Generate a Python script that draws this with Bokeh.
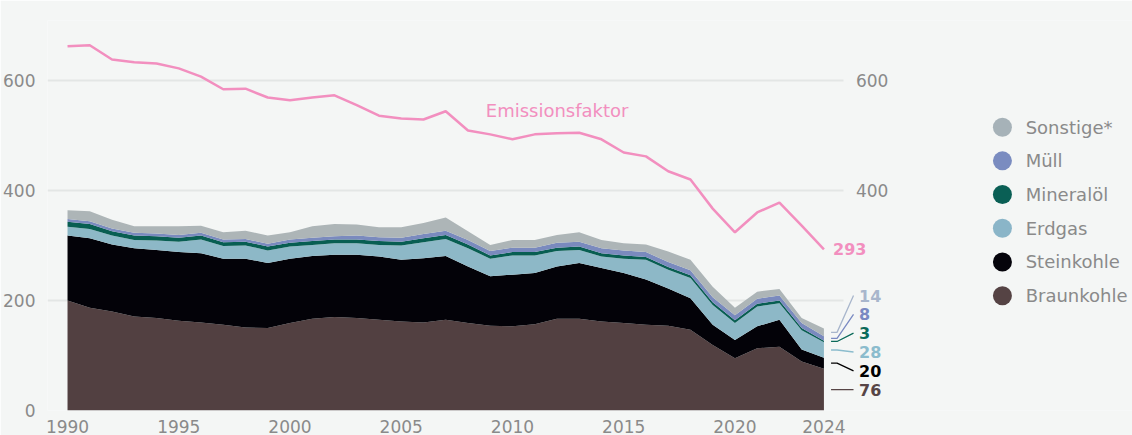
from bokeh.plotting import figure
from bokeh.models import (Range1d, FixedTicker, Label, ColumnDataSource)
from bokeh.core.properties import value
from bokeh.embed import file_html
from bokeh.resources import INLINE

# ---------------- data ----------------
years = list(range(1990, 2025))
braunkohle = [200, 187, 180, 171, 168, 163, 160, 156, 151, 150, 159, 167, 170, 168, 165, 162, 160, 165,
              159, 154, 153, 157, 167, 167, 162, 159, 156, 154, 147, 119, 95, 113, 116, 89, 76]
steinkohle = [118, 126, 122, 124, 124, 125, 126, 120, 125, 118, 117, 114, 113, 115, 115, 112, 117, 116,
              103, 90, 94, 93, 95, 101, 97, 91, 82, 68, 57, 37, 33, 40, 49, 22, 20]
erdgas = [16, 17, 16, 15, 17, 19, 25, 23, 24, 23, 22, 20, 21, 21, 21, 26, 29, 31,
          33, 32, 35, 32, 28, 24, 21, 26, 36, 34, 37, 36, 31, 36, 30, 35, 28]
mineraloel = [9, 9, 8, 8, 8, 7, 7, 7, 7, 7, 7, 7, 7, 7, 7, 7, 7, 7,
              7, 6, 6, 6, 6, 6, 6, 6, 5, 5, 5, 5, 5, 5, 5, 4, 3]
muell = [5, 5, 5, 5, 5, 5, 5, 5, 5, 5, 6, 6, 6, 7, 7, 7, 8, 8,
         8, 8, 8, 8, 9, 9, 9, 9, 9, 9, 9, 9, 9, 9, 9, 9, 8]
sonstige = [16, 18, 16, 12, 13, 16, 13, 13, 15, 15, 13, 21, 22, 20, 18, 19, 20, 24,
            16, 11, 14, 14, 14, 17, 15, 13, 14, 19, 19, 19, 14, 13, 12, 9, 14]
emissionsfaktor = [662, 664, 638, 633, 631, 622, 607, 584, 585, 569, 564, 569, 573, 555, 536, 531, 529, 544,
                   509, 502, 493, 502, 504, 505, 493, 469, 462, 435, 420, 367, 324, 360, 378, 336, 293]

series_names = ["Braunkohle", "Steinkohle", "Erdgas", "Mineralöl", "Müll", "Sonstige*"]
series_keys = ["braunkohle", "steinkohle", "erdgas", "mineraloel", "muell", "sonstige"]
series_vals = [braunkohle, steinkohle, erdgas, mineraloel, muell, sonstige]
x_ticks = [1990, 1995, 2000, 2005, 2010, 2015, 2020, 2024]
y_ticks_left = [0, 200, 400, 600]
y_ticks_right = [400, 600]

# ---------------- styles / layout ----------------
area_colors = ["#524041", "#030208", "#8db8c7", "#085e52", "#7a8abe", "#adb5b7"]
legend_colors = ["#554344", "#05040b", "#8ab5c8", "#0a5f55", "#7a8cc0", "#a6b2b8"]
label_colors = ["#574546", "#000000", "#8bbccd", "#0b6a5a", "#7a8ac2", "#a8b6cc"]
pink = "#f28fbf"
bg = "#f4f6f5"
tick_color = "#8a8a8a"
grid_color = "#e3e6e5"
FONT = "DejaVu Sans"

X0, X_GRID_END, X1 = 1989.10, 2024.90, 2037.87
PX_PER_UNIT = 0.55          # vertical pixels per Mt
PX_PER_YEAR = 22.29         # horizontal pixels per year

p = figure(width=1132, height=435,
           x_range=Range1d(X0, X1), y_range=Range1d(0, 709),
           output_backend="svg", toolbar_location=None,
           min_border_left=45, min_border_right=0, min_border_top=20, min_border_bottom=25)
p.background_fill_color = bg
p.border_fill_color = bg
p.outline_line_color = None

# axes
p.xaxis.ticker = FixedTicker(ticks=x_ticks)
p.yaxis.ticker = FixedTicker(ticks=y_ticks_left)
for ax in [p.xaxis[0], p.yaxis[0]]:
    ax.axis_line_color = None
    ax.major_tick_line_color = None
    ax.minor_tick_line_color = None
    ax.major_label_text_color = tick_color
    ax.major_label_text_font = FONT
    ax.major_label_text_font_size = "17px"
p.xaxis.major_label_standoff = 3
p.yaxis.major_label_standoff = 6

# grid: horizontal lines ending at the data area
p.xgrid.grid_line_color = None
p.ygrid.ticker = FixedTicker(ticks=y_ticks_left)
try:
    p.ygrid.cross_bounds = (X0, X_GRID_END)
    p.ygrid.grid_line_color = grid_color
    p.ygrid.grid_line_width = 2
except AttributeError:
    p.ygrid.grid_line_color = None
    g = p.segment(x0=[X0] * len(y_ticks_left), y0=y_ticks_left,
                  x1=[X_GRID_END] * len(y_ticks_left), y1=y_ticks_left,
                  line_color=grid_color, line_width=2)
    g.level = "underlay"

# right-hand tick labels (the frame spans the whole width)
p.text(x=[2025.44] * len(y_ticks_right), y=y_ticks_right, text=[str(t) for t in y_ticks_right],
       text_font=value(FONT), text_font_size="17px", text_color=tick_color,
       text_baseline="middle", text_align="left")

# stacked areas
data = dict(year=years)
for k, v in zip(series_keys, series_vals):
    data[k] = v
source = ColumnDataSource(data)
p.varea_stack(stackers=series_keys, x="year", color=area_colors, source=source)

# emission factor line
p.line(years, emissionsfaktor, line_color=pink, line_width=2.5)
p.add_layout(Label(x=2008.8, y=545, text="Emissionsfaktor", text_color=pink,
                   text_font=FONT, text_font_size="18px", text_baseline="middle"))
p.add_layout(Label(x=2024.41, y=emissionsfaktor[-1], text=str(emissionsfaktor[-1]),
                   text_color=pink, text_font=FONT, text_font_size="16px",
                   text_font_style="bold", text_baseline="middle"))

# end labels with leader lines
label_gap = 18.8 / PX_PER_UNIT
base_y = braunkohle[-1] / 2
cum = 0
lx, ly_list, ltxt, lcol, xs, ys = [], [], [], [], [], []
for i, (vals, col) in enumerate(zip(series_vals, label_colors)):
    last = vals[-1]
    mid = cum + last / 2
    cum += last
    ly = base_y + i * label_gap
    lx.append(2025.58)
    ly_list.append(ly)
    ltxt.append(str(last))
    lcol.append(col)
    xs.append([2024.32, 2024.59, 2025.33])
    ys.append([mid, mid, ly])
p.multi_line(xs=xs, ys=ys, line_color=lcol, line_width=1.3)
p.text(x=lx, y=ly_list, text=ltxt, text_color=lcol, text_font=value(FONT),
       text_font_size="16px", text_font_style="bold", text_baseline="middle", text_align="left")

# legend (markers + names, top to bottom: Sonstige ... Braunkohle)
leg_names = list(reversed(series_names))
leg_cols = list(reversed(legend_colors))
top_val = (410 - 126.7) / PX_PER_UNIT
step = 33.7 / PX_PER_UNIT
leg_y = [top_val - i * step for i in range(len(leg_names))]
marker_x = 1990 + (1001.7 - 65) / PX_PER_YEAR
text_x = 1990 + (1025 - 65) / PX_PER_YEAR
p.scatter(x=[marker_x] * len(leg_names), y=leg_y, size=19, fill_color=leg_cols, line_color=None)
p.text(x=[text_x] * len(leg_names), y=leg_y, text=leg_names, text_font=value(FONT),
       text_font_size="18px", text_color=tick_color, text_baseline="middle", text_align="left")

html = file_html(p, INLINE)
html = html.replace("<body>", '<body style="background-color:%s;">' % bg, 1)
open("out.html", "w").write(html)
